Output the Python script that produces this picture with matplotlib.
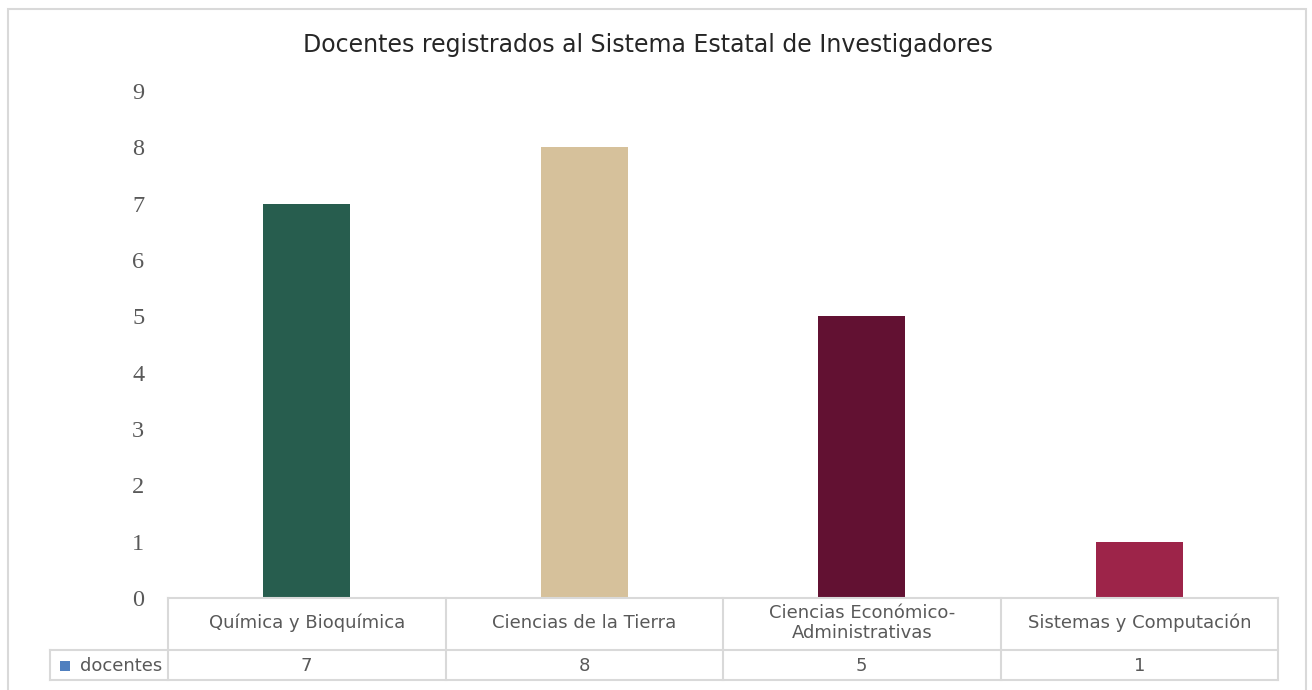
import matplotlib
matplotlib.use("Agg")
import matplotlib.pyplot as plt
from matplotlib.patches import Rectangle
import matplotlib.transforms as mtransforms

categories = ["Química y Bioquímica", "Ciencias de la Tierra",
              "Ciencias Económico-\nAdministrativas", "Sistemas y Computación"]
values = [7, 8, 5, 1]
series_name = "docentes"
bar_colors = ["#275D4E", "#D6C19B", "#621132", "#9D2449"]
yticks = list(range(0, 10))
title = "Docentes registrados al Sistema Estatal de Investigadores"

W, H = 1312, 690
fig = plt.figure(figsize=(W / 100, H / 100), dpi=100)
fig.patch.set_facecolor("white")

# outer border
fig.add_artist(Rectangle((8 / W, -0.05), (1306 - 8) / W, (H - 9) / H + 0.05,
                         transform=fig.transFigure, fill=False,
                         edgecolor="#d9d9d9", lw=1.5))

left, right = 168, 1278
y0, y9 = 598, 91
ax = fig.add_axes([left / W, (H - y0) / H, (right - left) / W, (y0 - y9) / H])
x = list(range(len(categories)))
ax.bar(x, values, width=0.313, color=bar_colors)
ax.set_xlim(-0.5, len(categories) - 0.5)
ax.set_ylim(0, 9)
ax.set_yticks(yticks)
ax.set_yticklabels([str(t) for t in yticks], family="Liberation Serif",
                   fontsize=17.5, color="#595959")
ax.tick_params(axis="y", length=0, pad=17)
ax.set_xticks([])
for s in ax.spines.values():
    s.set_visible(False)

fig.text(0.494, 1 - 45 / H, title, ha="center", va="center",
         fontsize=17, color="#262626", family="DejaVu Sans")

# data table below the axes
tr = mtransforms.blended_transform_factory(ax.transData, ax.transAxes)
ph = y0 - y9
def yf(py):
    return -(py - y0) / ph

gc = "#d9d9d9"
lw = 1.5
xl = -0.5 - (left - 50) / ((right - left) / len(categories))
ax.plot([-0.5, 3.5], [yf(598), yf(598)], color=gc, lw=lw, transform=tr, clip_on=False)
ax.plot([xl, 3.5], [yf(650), yf(650)], color=gc, lw=lw, transform=tr, clip_on=False)
ax.plot([xl, 3.5], [yf(680), yf(680)], color=gc, lw=lw, transform=tr, clip_on=False)
for i in range(len(categories) + 1):
    xv = i - 0.5
    ax.plot([xv, xv], [yf(598), yf(680)], color=gc, lw=lw, transform=tr, clip_on=False)
ax.plot([xl, xl], [yf(650), yf(680)], color=gc, lw=lw, transform=tr, clip_on=False)

fs = 13
for i, (c, v) in enumerate(zip(categories, values)):
    ax.text(i, yf(623), c, ha="center", va="center", fontsize=fs,
            color="#595959", transform=tr, linespacing=1.2, family="DejaVu Sans")
    ax.text(i, yf(666), str(v), ha="center", va="center", fontsize=fs,
            color="#595959", transform=tr, family="DejaVu Sans")

ax.text(-0.5 - 6 / 277.5, yf(666), series_name, ha="right", va="center",
        fontsize=fs, color="#595959", transform=tr, family="DejaVu Sans")
sq = (60 / W, (H - 671) / H)
fig.add_artist(Rectangle(sq, 10 / W, 10 / H, transform=fig.transFigure,
                         facecolor="#4F7FBF", edgecolor="none"))

fig.savefig("out.png", dpi=100, facecolor="white")
